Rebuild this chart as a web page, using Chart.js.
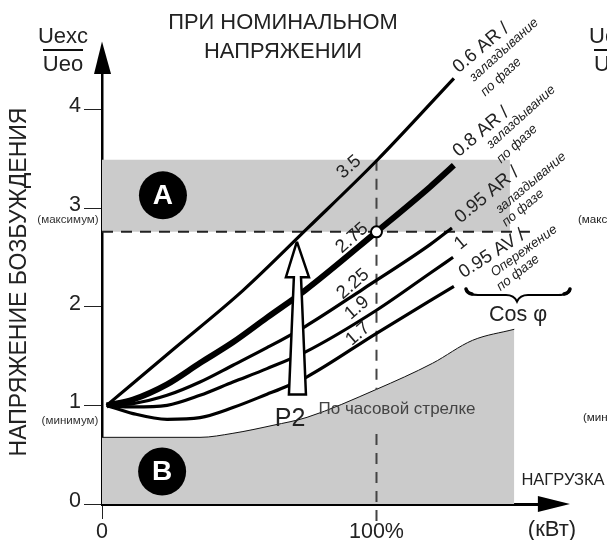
<!DOCTYPE html>
<html><head><meta charset="utf-8">
<style>html,body{margin:0;padding:0;background:#fff}canvas{display:block}</style>
<script src="https://cdn.jsdelivr.net/npm/chart.js@4"></script>
</head><body>
<canvas id="c" width="607" height="540"></canvas>
<script>
const yTicks=[0,1,2,3,4];
const xTicks=[0,100];
const xTickLabels=['0','100%'];
const cos06x=[1.7,26,51.4,75,100.2,128.2];
const cos06y=[1,1.57,2.167,2.80,3.486,4.317];
const cos08x=[1.7,11.3,23.7,35.7,47.7,60.1,74,100,119.5,128.2];
const cos08y=[1,1.06,1.214,1.43,1.64,1.89,2.167,2.76,3.215,3.435];
const cos095arx=[1.7,11.3,23.7,35.7,47.7,60.1,74,95.1,119.5,127.5];
const cos095ary=[1,1.018,1.102,1.237,1.407,1.585,1.80,2.18,2.63,2.8];
const cos1x=[1.7,11.3,23.7,35.7,47.7,60.1,74,100,119.5,127.9];
const cos1y=[1,0.984,1.001,1.102,1.237,1.373,1.54,1.965,2.34,2.502];
const cos095avx=[1.7,11.3,23.7,35.7,47.7,60.1,67.8,74.7,100,128.2];
const cos095avy=[1,0.917,0.859,0.876,0.978,1.113,1.2,1.29,1.731,2.208];
const zoneBx=[0,35.7,47.7,62.3,74.7,100,120.4,135,150.2];
const zoneBy=[0.676,0.676,0.717,0.798,0.879,1.163,1.427,1.66,1.772];
const zoneAx=[0,148.6];
const zoneATop=3.49;
const ratedY=2.76;
const ratedX=100;
const ratedEndX=155.9;
const p2x=[71,75.4,72.5,74.3,68.1,69.9,67,71];
const p2y=[2.66,2.30,2.30,1.11,1.11,2.30,2.30,2.66];
const yHeadX=[0,3.3,-2.9];
const yHeadY=[4.69,4.36,4.36];
const xHeadX=[170.5,158.8,158.8];
const xHeadY=[0,0.08,-0.08];
const badges=[{x:22.2,y:3.13,t:'A'},{x:21.9,y:0.33,t:'B'}];
const zip=(a,b)=>a.map((x,i)=>({x,y:b[i]}));
const BLACK='#000';
const line=(x,y,w,order)=>({data:zip(x,y),borderColor:BLACK,borderWidth:w,pointRadius:0,fill:false,cubicInterpolationMode:'monotone',borderCapStyle:'butt',order});
const shape=(x,y,bg,bc,w,order)=>({data:zip(x,y),backgroundColor:bg,borderColor:bc,borderWidth:w,pointRadius:0,fill:'shape',tension:0,clip:false,order,borderJoinStyle:'miter'});
const SANS='"Liberation Sans",Arial,sans-serif';
const INK='#222';
const labels=[
 ['ПРИ НОМИНАЛЬНОМ',283,23,0,`21.9px ${SANS}`],
 ['НАПРЯЖЕНИИ',283,52,0,`21.9px ${SANS}`],
 ['НАПРЯЖЕНИЕ БОЗБУЖДЕНИЯ',20,282,-90,`23px ${SANS}`],
 ['Uexc',63,37,0,`22px ${SANS}`],
 ['Ueo',63,65,0,`22px ${SANS}`],
 ['(максимум)',68,220,0,`11.6px ${SANS}`,'#333'],
 ['(минимум)',70,421,0,`11.6px ${SANS}`,'#333'],
 ['(кВт)',552,530,0,`22px ${SANS}`],
 ['НАГРУЗКА',563,480,0,`16.5px ${SANS}`],
 ['P2',290,419,0,`25px ${SANS}`],
 ['По часовой стрелке',397,409,0,`17px ${SANS}`,'#444'],
 ['3.5',349,167,-41,`18.5px ${SANS}`],
 ['2.75',352,238,-41,`18.5px ${SANS}`],
 ['2.25',353,284,-41,`18.5px ${SANS}`],
 ['1.9',357,308,-41,`18.5px ${SANS}`],
 ['1.7',358,334,-41,`18.5px ${SANS}`],
 ['0.6 AR /',481,48,-40,`18.5px ${SANS}`],
 ['залаздывание',504,50,-42,`italic 13.3px ${SANS}`],
 ['по фазе',501,77,-43,`italic 13.3px ${SANS}`],
 ['0.8 AR /',481,132,-40,`18.5px ${SANS}`],
 ['залаздывание',521,117,-42,`italic 13.3px ${SANS}`],
 ['по фазе',517,144,-43,`italic 13.3px ${SANS}`],
 ['0.95 AR /',487,195,-40,`18.5px ${SANS}`],
 ['залаздывание',531,183,-40,`italic 13.3px ${SANS}`],
 ['по фазе',523,208,-40,`italic 13.3px ${SANS}`],
 ['1',461,243,-40,`18.5px ${SANS}`],
 ['0.95 AV /',492,254,-33,`18.5px ${SANS}`],
 ['Опережение',524,251,-36,`italic 13.3px ${SANS}`],
 ['по фазе',518,273,-38,`italic 13.3px ${SANS}`],
 ['Cos φ',518,315,0,`21.5px ${SANS}`]
];
const partial=[
 ['Uexc',589,37,`22px ${SANS}`],
 ['Ueo',594,65,`22px ${SANS}`],
 ['(максимум)',578,220,`11.6px ${SANS}`],
 ['(минимум)',583,418,`11.6px ${SANS}`]
];
const decor={id:'decor',
 afterDatasetsDraw(ch){
  const c=ch.ctx,sx=ch.scales.x,sy=ch.scales.y;c.save();
  c.textBaseline='middle';
  c.fillStyle='#fff';c.textAlign='center';c.font=`bold 28px ${SANS}`;
  badges.forEach(b=>c.fillText(b.t,sx.getPixelForValue(b.x),sy.getPixelForValue(b.y)+1));
  c.fillStyle=BLACK;
  [[yHeadX,yHeadY],[xHeadX,xHeadY]].forEach(([xs,ys])=>{
   c.beginPath();
   xs.forEach((v,i)=>c.lineTo(sx.getPixelForValue(v),sy.getPixelForValue(ys[i])));
   c.closePath();c.fill();
  });
  labels.forEach(([t,x,y,r,f,col])=>{
   c.save();c.translate(x,y);c.rotate(r*Math.PI/180);c.font=f;c.fillStyle=col||INK;c.textAlign='center';c.fillText(t,0,0);c.restore();
  });
  c.textAlign='left';c.fillStyle=INK;
  partial.forEach(([t,x,y,f])=>{c.font=f;c.fillText(t,x,y);});
  c.fillStyle='#111';c.fillRect(43,49,40,2);c.fillRect(594,49,13,2);
  c.strokeStyle='#000';c.lineWidth=2;c.lineCap='round';
  c.beginPath();c.moveTo(466,289);c.quadraticCurveTo(467,295,478,295);c.lineTo(506,295);
  c.quadraticCurveTo(514,295,517,301.5);c.quadraticCurveTo(520,295,528,295);c.lineTo(558,295);
  c.quadraticCurveTo(570,295,570,289);c.stroke();
  c.lineWidth=3.5;
  c.beginPath();c.moveTo(466,289);c.quadraticCurveTo(467,293,472,294);c.stroke();
  c.beginPath();c.moveTo(570,289);c.quadraticCurveTo(569,293,564,294);c.stroke();
  c.restore();
 }};
new Chart(document.getElementById('c'),{
 type:'line',
 plugins:[decor],
 data:{datasets:[
  {data:badges,pointRadius:24,pointBackgroundColor:BLACK,pointBorderWidth:0,showLine:false,order:1},
  {data:[{x:ratedX,y:ratedY}],pointRadius:5.5,pointBackgroundColor:'#fff',pointBorderColor:BLACK,pointBorderWidth:2,showLine:false,order:2},
  shape(p2x,p2y,'#fff',BLACK,2.5,3),
  line(cos06x,cos06y,3.2,5),
  line(cos08x,cos08y,6,5),
  line(cos095arx,cos095ary,3.2,5),
  line(cos1x,cos1y,3.2,5),
  line(cos095avx,cos095avy,3.2,5),
  {data:[{x:ratedX,y:zoneATop},{x:ratedX,y:1.16},{x:ratedX,y:null},{x:ratedX,y:0.71},{x:ratedX,y:-0.22}],borderColor:'#444',borderWidth:2,borderDash:[11,8],pointRadius:0,clip:false,fill:false,spanGaps:false,order:6},
  {data:[{x:0,y:ratedY},{x:ratedEndX,y:ratedY}],borderColor:'#222',borderWidth:2,borderDash:[11,8],pointRadius:0,clip:false,fill:false,order:6},
  {data:zip(zoneBx,zoneBy),borderColor:'#111',borderWidth:1,pointRadius:0,backgroundColor:'#cbcbcb',fill:'origin',cubicInterpolationMode:'monotone',order:7},
  {data:zip(zoneAx,zoneAx.map(()=>zoneATop)),borderWidth:0,pointRadius:0,backgroundColor:'#cbcbcb',fill:{value:ratedY},order:8}
 ]},
 options:{
  responsive:false,animation:false,
  layout:{padding:{top:58,right:52,left:0,bottom:0}},
  plugins:{legend:{display:false},tooltip:{enabled:false}},
  scales:{
   x:{type:'linear',min:0,max:165.03,
    border:{color:BLACK,width:3},
    grid:{drawOnChartArea:false,tickLength:15,tickWidth:1,color:c=>c.tick&&c.tick.value===100?'transparent':'#222'},
    afterBuildTicks:s=>{s.ticks=xTicks.map(v=>({value:v}));},
    afterFit:s=>{s.height=36;},
    ticks:{maxRotation:0,autoSkip:false,padding:0,color:INK,font:{family:'Liberation Sans',size:21.5},callback:(v)=>xTickLabels[xTicks.indexOf(v)]}
   },
   y:{type:'linear',min:0,max:4.523,
    border:{color:BLACK,width:2.5},
    grid:{drawOnChartArea:false,tickLength:18,tickWidth:1,color:'#222'},
    afterBuildTicks:s=>{s.ticks=yTicks.map(v=>({value:v}));},
    afterFit:s=>{s.width=102;},
    ticks:{padding:3,labelOffset:-3,color:INK,font:{family:'Liberation Sans',size:21.5},callback:v=>String(v)}
   }
  }
 }
});
</script>
</body></html>
